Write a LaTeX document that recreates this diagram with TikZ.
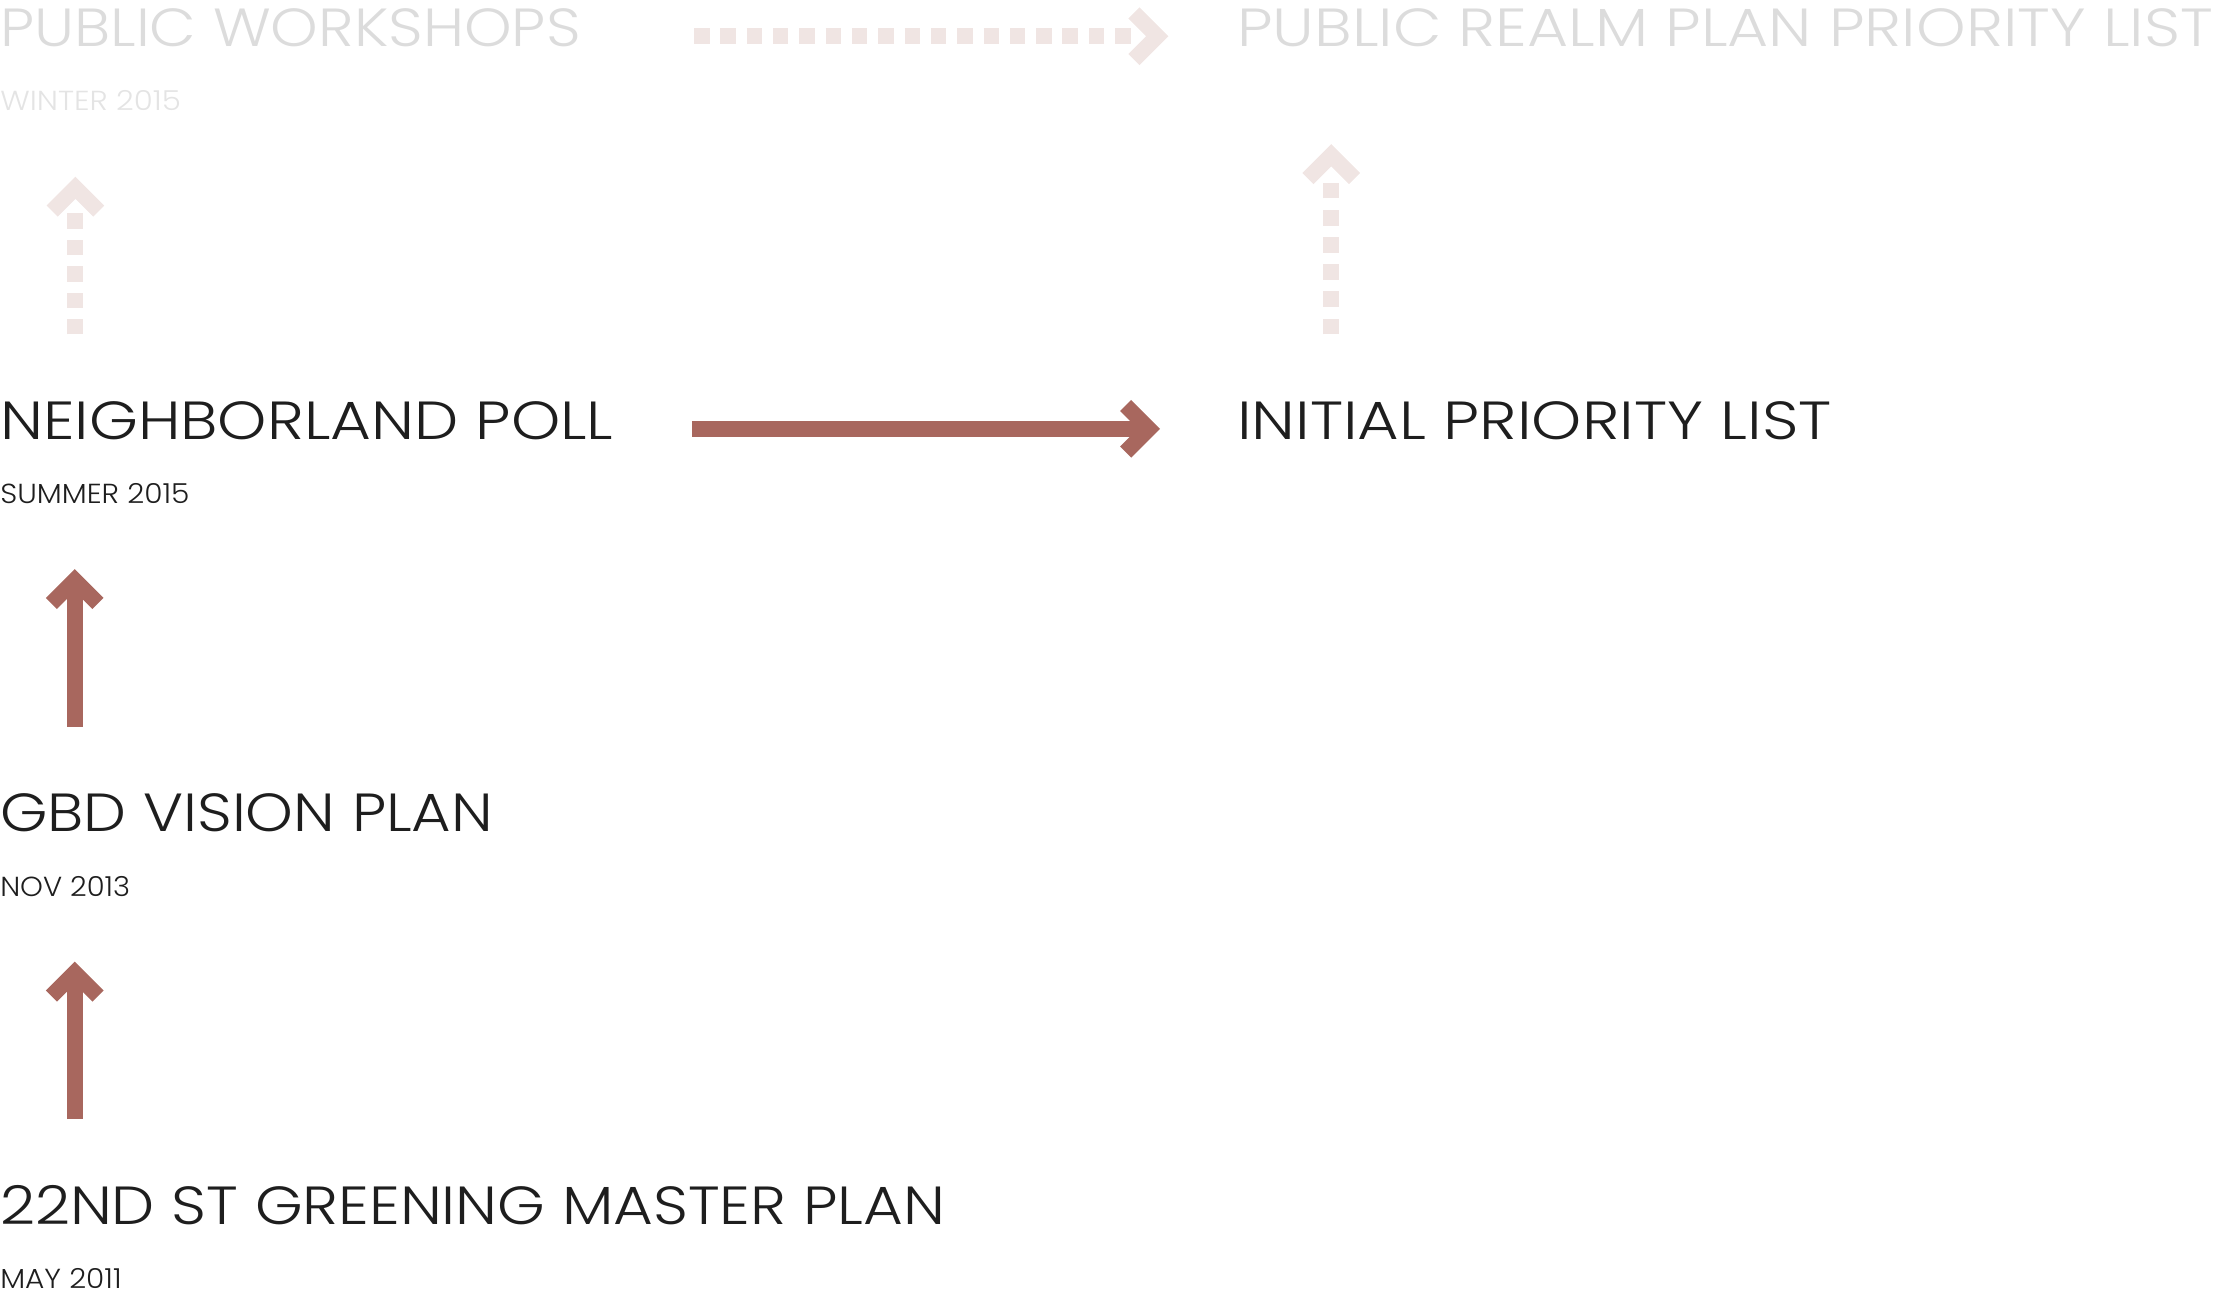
\documentclass[tikz,border=0pt]{standalone}
\usepackage{fontspec}
\setmainfont{Poppins}[UprightFont=* Light]
\definecolor{darktext}{HTML}{1E1E1E}
\definecolor{graytext}{HTML}{DCDCDC}
\definecolor{palegray}{HTML}{E4E4E4}
\definecolor{solidc}{HTML}{A8675E}
\definecolor{palec}{HTML}{F0E5E3}
\newcommand{\fitw}[2]{\resizebox{#1pt}{\height}{#2}}
\tikzset{
  title/.style={anchor=base west, inner sep=0pt, text depth=0pt, font=\fontsize{38}{40}\selectfont, text=darktext},
  subtitle/.style={anchor=base west, inner sep=0pt, text depth=0pt, font=\fontsize{19.5}{21}\selectfont, text=darktext},
  faded/.style={text=graytext},
  fadedsub/.style={text=palegray},
  solidshaft/.style={draw=solidc, line width=11.1pt, line cap=butt},
  dotshaft/.style={draw=palec, line width=11.2pt, line cap=butt},
  chev/.pic={\draw[line width=11.1pt, line cap=butt, line join=miter, draw=#1] (-16.5,-16.5) -- (0,0) -- (-16.5,16.5);}
}
\begin{document}
\begin{tikzpicture}[x=1pt,y=-1pt]
\useasboundingbox (0,0) rectangle (1568,915.7);
% texts
\node[title,faded] (pw) at (0,33) {\fitw{411}{PUBLIC WORKSHOPS}};
\node[subtitle,fadedsub] (pwd) at (0,78.6) {\fitw{128}{WINTER 2015}};
\node[title,faded] (prl) at (876,33) {\fitw{691}{PUBLIC REALM PLAN PRIORITY LIST}};
\node[title] (np) at (0,311) {\fitw{434}{NEIGHBORLAND POLL}};
\node[subtitle] (npd) at (0,356.6) {\fitw{134}{SUMMER 2015}};
\node[title] (ipl) at (876,311) {\fitw{421}{INITIAL PRIORITY LIST}};
\node[title] (gbd) at (0,589) {\fitw{349}{GBD VISION PLAN}};
\node[subtitle] (gbdd) at (0,634.6) {\fitw{92}{NOV 2013}};
\node[title] (gm) at (0,867) {\fitw{669}{22ND ST GREENING MASTER PLAN}};
\node[subtitle] (gmd) at (0,912.6) {\fitw{86}{MAY 2011}};
% arrow coordinates
\coordinate (d1s) at (491.5,25.7);
\coordinate (d1e) at (801,25.7);
\coordinate (d1v) at (819.6,25.7);
\coordinate (d2s) at (53.4,236.8);
\coordinate (d2e) at (53.4,151);
\coordinate (d2v) at (53.4,133);
\coordinate (d3s) at (942.8,236.8);
\coordinate (d3e) at (942.8,129.4);
\coordinate (d3v) at (942.8,109.9);
\coordinate (s1s) at (490,303.7);
\coordinate (s1v) at (813.7,303.7);
\coordinate (s2s) at (52.9,514.6);
\coordinate (s2v) at (52.9,410.9);
\coordinate (s3s) at (52.9,792.6);
\coordinate (s3v) at (52.9,688.9);
% dotted arrows
\draw[dotshaft, dash pattern=on 11pt off 7.64pt] (d1s) -- (d1e);
\pic at (d1v) {chev=palec};
\draw[dotshaft, dash pattern=on 10.9pt off 7.8pt] (d2s) -- (d2e);
\pic[rotate=90] at (d2v) {chev=palec};
\draw[dotshaft, dash pattern=on 11.1pt off 8.16pt] (d3s) -- (d3e);
\pic[rotate=90] at (d3v) {chev=palec};
% solid arrows
\draw[solidshaft] (s1s) -- (s1v);
\pic at (s1v) {chev=solidc};
\draw[solidshaft] (s2s) -- (s2v);
\pic[rotate=90] at (s2v) {chev=solidc};
\draw[solidshaft] (s3s) -- (s3v);
\pic[rotate=90] at (s3v) {chev=solidc};
\end{tikzpicture}
\end{document}
